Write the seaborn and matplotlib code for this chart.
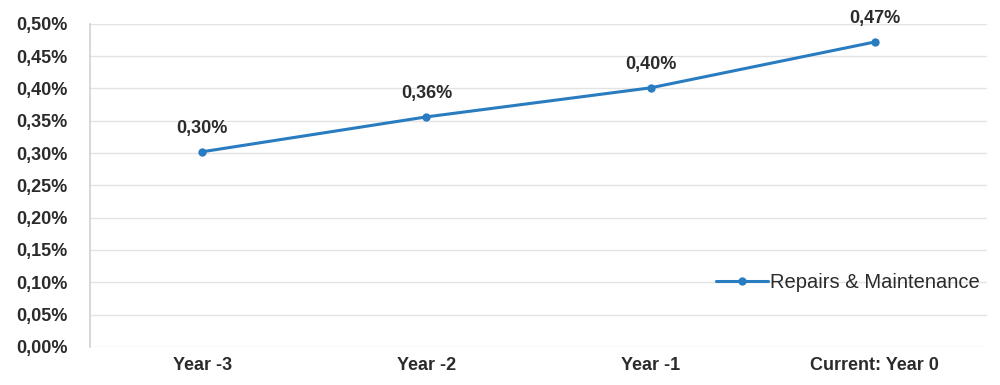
import numpy as np
import pandas as pd
import seaborn as sns
import matplotlib.pyplot as plt
from matplotlib.ticker import FuncFormatter

categories = ['Year -3', 'Year -2', 'Year -1', 'Current: Year 0']
values = [0.302, 0.356, 0.401, 0.472]
labels = ['0,30%', '0,36%', '0,40%', '0,47%']
series_name = 'Repairs & Maintenance'

df = pd.DataFrame({'period': categories, 'value': values, 'series': series_name})

sns.set_style('white')
plt.rcParams['font.family'] = ['Liberation Sans', 'DejaVu Sans']

fig = plt.figure(figsize=(10, 3.85), dpi=100)
ax = fig.add_axes([0.09, 0.099, 0.897, 0.839])

color = '#2a7cc0'
sns.lineplot(data=df, x='period', y='value', hue='series', palette=[color],
             marker='o', markersize=6, linewidth=2.2, markeredgewidth=0,
             sort=False, ax=ax)

for i, (v, t) in enumerate(zip(values, labels)):
    ax.annotate(t, (i, v), xytext=(0, 11), textcoords='offset points',
                ha='center', va='bottom', fontsize=13, fontweight='bold',
                color='#2b2b2b')

ax.set_xlim(-0.5, 3.5)
ax.set_ylim(0, 0.5)
ax.set_yticks(np.arange(0, 0.501, 0.05))
ax.yaxis.set_major_formatter(FuncFormatter(lambda y, _: f'{y:.2f}%'.replace('.', ',')))
ax.grid(axis='y', color='#e3e3e3', linewidth=1)
ax.set_axisbelow(True)
for s in ['top', 'right', 'bottom']:
    ax.spines[s].set_visible(False)
ax.spines['left'].set_color('#d0d0da')
ax.spines['left'].set_linewidth(1.2)
ax.tick_params(axis='both', length=0, labelsize=13, labelcolor='#2b2b2b')
for lab in ax.get_xticklabels() + ax.get_yticklabels():
    lab.set_fontweight('bold')
ax.tick_params(axis='y', pad=16)
ax.tick_params(axis='x', pad=7)
ax.set_xlabel('')
ax.set_ylabel('')

leg = ax.legend(loc='center right', bbox_to_anchor=(1.012, 0.2), frameon=False,
                fontsize=14.5, handlelength=2.6, handletextpad=0.1)
for t in leg.get_texts():
    t.set_color('#2b2b2b')

fig.savefig('out.png', dpi=100)
